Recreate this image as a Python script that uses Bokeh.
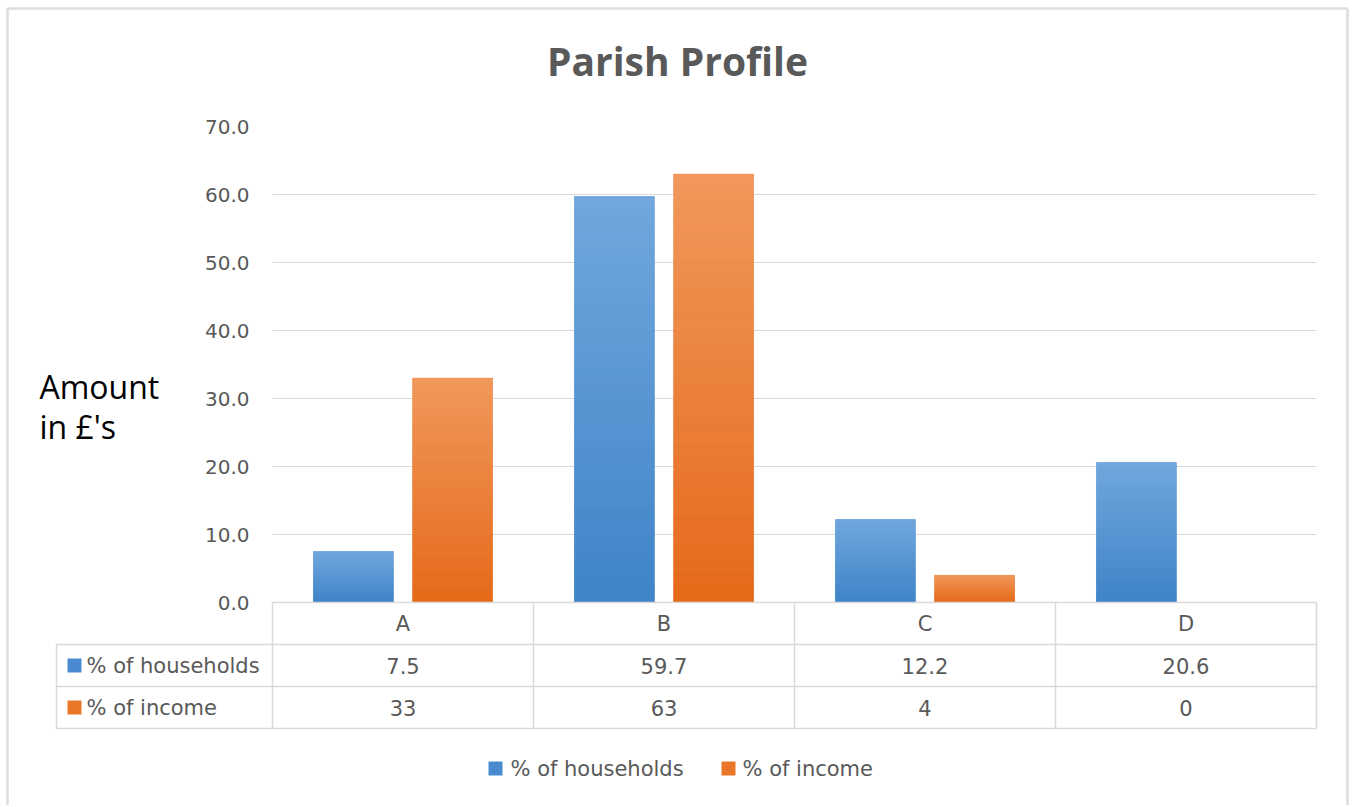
from bokeh.plotting import figure
from bokeh.models import ColumnDataSource, FactorRange, Range1d, FixedTicker, NumeralTickFormatter
from bokeh.transform import dodge
from bokeh.core.properties import value
from bokeh.embed import file_html
from bokeh.resources import INLINE

# ---------------- data ----------------
categories = ["A", "B", "C", "D"]
households = [7.5, 59.7, 12.2, 20.6]
income = [33, 63, 4, 0]
series_names = ["% of households", "% of income"]
y_ticks = [0, 10, 20, 30, 40, 50, 60, 70]
title_text = "Parish Profile"
y_label_lines = ["Amount", "in £'s"]

# ---------------- style ----------------
FONT = "DejaVu Sans"
GRAY = "#595959"
LINE = "#d9d9d9"
BLUE = "#4A8AD0"
ORANGE = "#EA7628"
BLUE_TOP, BLUE_BOT = (114, 167, 222), (62, 132, 199)
ORANGE_TOP, ORANGE_BOT = (241, 152, 92), (229, 106, 26)

W, H = 1352, 805
FL, FR, FT, FB = 272, 1316, 126, 602      # frame edges in page pixels
ymax = 70
px_y = (FB - FT) / ymax
px_x = (FR - FL) / len(categories)

def X(px):   # page x pixel -> synthetic x
    return (px - FL) / px_x

def Y(py):   # page y pixel -> data y
    return (FB - py) / px_y

p = figure(width=W, height=H, x_range=FactorRange(*categories, range_padding=0),
           y_range=Range1d(0, ymax), output_backend="svg", toolbar_location=None,
           min_border_left=FL, min_border_right=W - FR, min_border_top=FT,
           min_border_bottom=H - FB)
p.outline_line_color = None
p.background_fill_color = "white"
p.border_fill_color = "white"

# axes
p.yaxis.ticker = FixedTicker(ticks=y_ticks)
p.yaxis.formatter = NumeralTickFormatter(format="0.0")
p.yaxis.axis_line_color = None
p.yaxis.major_tick_line_color = None
p.yaxis.minor_tick_line_color = None
p.yaxis.major_label_text_font = FONT
p.yaxis.major_label_text_font_size = "20px"
p.yaxis.major_label_text_color = GRAY
p.yaxis.major_label_standoff = 17

p.xaxis.axis_line_color = None
p.xaxis.major_tick_line_color = None
p.xaxis.minor_tick_line_color = None
p.xaxis.major_label_text_font = FONT
p.xaxis.major_label_text_font_size = "21px"
p.xaxis.major_label_text_color = GRAY
p.xaxis.major_label_standoff = 3

p.xgrid.grid_line_color = None
p.ygrid.grid_line_color = LINE
p.ygrid.grid_line_width = 1

# ---------------- outer chart border ----------------
bx0 = [X(7), X(7), X(1347)]
bx1 = [X(1347), X(7), X(1347)]
by0 = [Y(8), Y(8), Y(8)]
by1 = [Y(8), Y(H), Y(H)]
p.segment(x0=bx0, x1=bx1, y0=by0, y1=by1, line_color="#dddddd", line_width=2.5, level="overlay")

# ---------------- bars ----------------
offsets = [-0.19, 0.19]
bar_w = 0.306
series = [households, income]
solid = [BLUE, ORANGE]
grads = [(BLUE_BOT, BLUE_TOP), (ORANGE_BOT, ORANGE_TOP)]
N = 30
for s, vals in enumerate(series):
    src = ColumnDataSource(dict(x=categories, top=vals))
    p.vbar(x=dodge("x", offsets[s], range=p.x_range), top="top", bottom=0,
           width=bar_w, source=src, fill_color=solid[s], line_color=None)
    gx, gb, gt, gc = [], [], [], []
    c0, c1 = grads[s]
    for cat, v in zip(categories, vals):
        for k in range(N):
            t = (k + 0.5) / N
            col = "#%02x%02x%02x" % tuple(int(round(c0[i] + (c1[i] - c0[i]) * t)) for i in range(3))
            gx.append(cat)
            gb.append(v * k / N)
            gt.append(v * (k + 1) / N)
            gc.append(col)
    gsrc = ColumnDataSource(dict(x=gx, bottom=gb, top=gt, color=gc))
    p.vbar(x=dodge("x", offsets[s], range=p.x_range), top="top", bottom="bottom",
           width=bar_w, source=gsrc, fill_color="color", line_color="color",
           line_width=0.6)

# ---------------- data table under the plot ----------------
row_h = 42
table_left = 56
n = len(categories)
hx0, hx1, hy = [], [], []
for yy, x0 in [(FB, FL), (FB + row_h, table_left), (FB + 2 * row_h, table_left),
               (FB + 3 * row_h, table_left)]:
    hx0.append(X(x0)); hx1.append(n); hy.append(Y(yy))
p.segment(x0=hx0, x1=hx1, y0=hy, y1=hy, line_color=LINE, line_width=1.5, level="overlay")
vx, vy0, vy1 = [], [], []
for i in range(n + 1):
    vx.append(i); vy0.append(0); vy1.append(Y(FB + 3 * row_h))
vx.append(X(table_left)); vy0.append(Y(FB + row_h)); vy1.append(Y(FB + 3 * row_h))
p.segment(x0=vx, x1=vx, y0=vy0, y1=vy1, line_color=LINE, line_width=1.5, level="overlay")

KEY = 14
row_mid = [FB + 1.5 * row_h, FB + 2.5 * row_h]
value_texts = [["%.1f" % v for v in households], ["%g" % v for v in income]]
for s in range(2):
    p.text(x=categories, y=[Y(row_mid[s])] * n, text=value_texts[s],
           text_font=value(FONT), text_font_size="21px", text_color=GRAY,
           text_align="center", text_baseline="middle", level="overlay")
    # colour key square
    p.segment(x0=[X(74)], x1=[X(74)], y0=[Y(row_mid[s] - KEY / 2)], y1=[Y(row_mid[s] + KEY / 2)],
              line_color=solid[s], line_width=KEY, line_cap="butt", level="overlay")
    p.text(x=[X(86)], y=[Y(row_mid[s])], text=[series_names[s]],
           text_font=value(FONT), text_font_size="21px", text_color=GRAY,
           text_align="left", text_baseline="middle", level="overlay")

# ---------------- title & y label ----------------
p.text(x=[X(677)], y=[Y(60)], text=[title_text], text_font=value("Open Sans"),
       text_font_style="bold", text_font_size="39px", text_color=GRAY,
       text_align="center", text_baseline="middle", level="overlay")
p.text(x=[X(39), X(39)], y=[Y(386), Y(426)], text=y_label_lines, text_font=value("Open Sans"),
       text_font_size="32px", text_color="black", text_align="left",
       text_baseline="middle", level="overlay")

# ---------------- legend (below the table) ----------------
leg_y = 768
leg_key_x = [495, 728]
leg_text_x = [510, 742]
for s in range(2):
    p.segment(x0=[X(leg_key_x[s])], x1=[X(leg_key_x[s])], y0=[Y(leg_y - KEY / 2)],
              y1=[Y(leg_y + KEY / 2)], line_color=solid[s], line_width=KEY,
              line_cap="butt", level="overlay")
    p.text(x=[X(leg_text_x[s])], y=[Y(leg_y)], text=[series_names[s]],
           text_font=value(FONT), text_font_size="21px", text_color=GRAY,
           text_align="left", text_baseline="middle", level="overlay")

open("out.html", "w").write(file_html(p, INLINE))
